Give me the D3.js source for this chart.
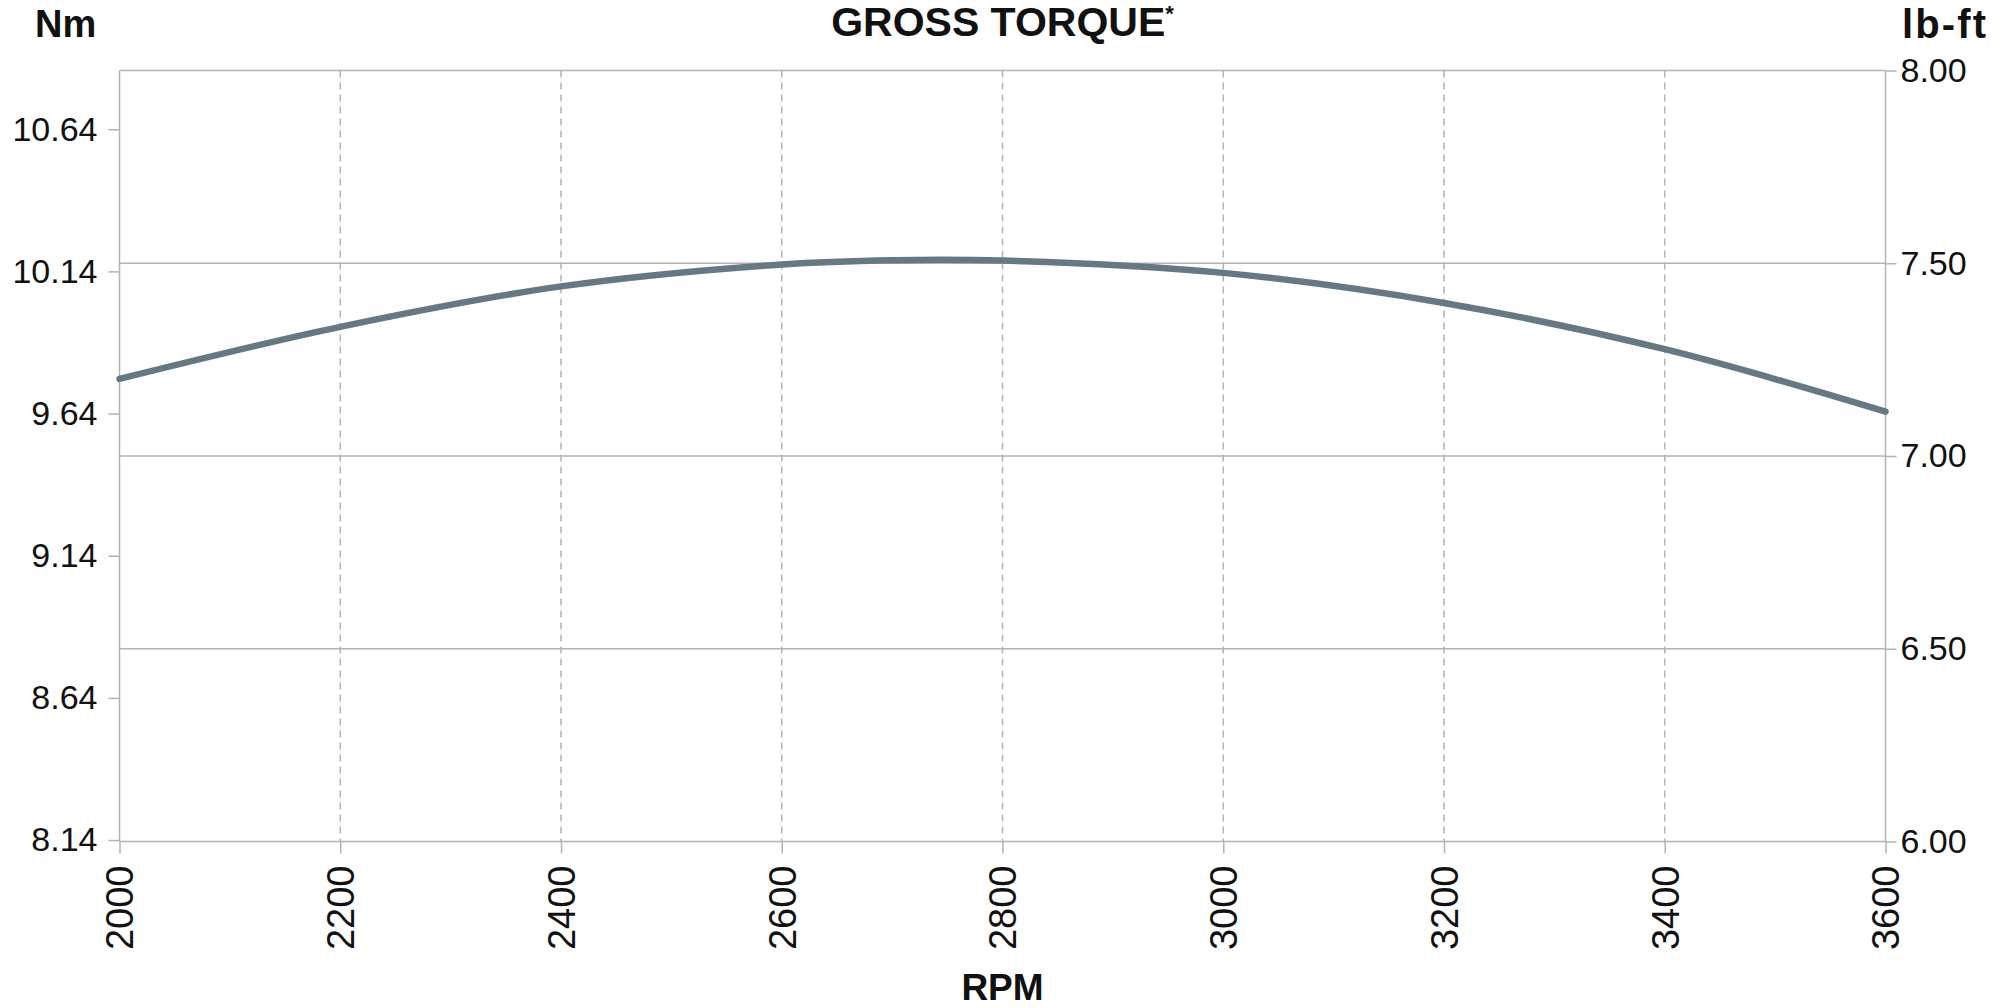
<!DOCTYPE html>
<html>
<head>
<meta charset="utf-8">
<script src="https://cdn.jsdelivr.net/npm/d3@7"></script>
<style>
    body { margin: 0; background: #fff; }
    text { font-family: "Liberation Sans", Arial, sans-serif; fill: #111; }
    .grid line { stroke: #b3b3b3; }
</style>
</head>
<body>
<div id="chart"></div>
<script>
// data
var rpm = [2000, 2200, 2400, 2600, 2700, 2800, 3000, 3200, 3400, 3600];
var torqueLbFt = [7.20, 7.335, 7.44, 7.497, 7.508, 7.507, 7.475, 7.397, 7.277, 7.115];

var rpmTicks = [2000, 2200, 2400, 2600, 2800, 3000, 3200, 3400, 3600];
var lbFtTicks = [6.00, 6.50, 7.00, 7.50, 8.00];
var nmTicks = [8.14, 8.64, 9.14, 9.64, 10.14, 10.64];
var NM_PER_LBFT = 1.35582;

var width = 2009;
var height = 1008;
var margin = { top: 70.5, right: 123.5, bottom: 166.5, left: 119.5 };
var boundedWidth = width - margin.left - margin.right;
var boundedHeight = height - margin.top - margin.bottom;

var svg = d3.select("#chart").append("svg")
    .attr("width", width)
    .attr("height", height);

var bounds = svg.append("g")
    .attr("transform", `translate(${margin.left}, ${margin.top})`);

var xScale = d3.scaleLinear()
    .domain([2000, 3600])
    .range([0, boundedWidth]);

var yScale = d3.scaleLinear()
    .domain([6, 8])
    .range([boundedHeight, 0]);

var nmScale = d3.scaleLinear()
    .domain([6 * NM_PER_LBFT, 8 * NM_PER_LBFT])
    .range([boundedHeight, 0]);

// vertical dashed grid
bounds.append("g").attr("class", "grid")
    .selectAll("line")
    .data(rpmTicks.slice(1, -1)).enter()
    .append("line")
    .attr("x1", d => xScale(d)).attr("x2", d => xScale(d))
    .attr("y1", 0).attr("y2", boundedHeight)
    .attr("stroke-width", 1.5)
    .attr("stroke-dasharray", "7,5");

// horizontal solid grid (incl. top and bottom border)
bounds.append("g").attr("class", "grid")
    .selectAll("line")
    .data(lbFtTicks).enter()
    .append("line")
    .attr("x1", 0).attr("x2", boundedWidth)
    .attr("y1", d => yScale(d)).attr("y2", d => yScale(d))
    .attr("stroke-width", 1.5);

// side borders
bounds.append("g").attr("class", "grid")
    .selectAll("line")
    .data([0, boundedWidth]).enter()
    .append("line")
    .attr("x1", d => d).attr("x2", d => d)
    .attr("y1", 0).attr("y2", boundedHeight)
    .attr("stroke-width", 1.5);

// axes
var leftAxis = d3.axisLeft(nmScale)
    .tickValues(nmTicks)
    .tickFormat(d3.format(".2f"))
    .tickSize(11)
    .tickPadding(11);

var rightAxis = d3.axisRight(yScale)
    .tickValues(lbFtTicks)
    .tickFormat(d3.format(".2f"))
    .tickSize(11)
    .tickPadding(4);

var bottomAxis = d3.axisBottom(xScale)
    .tickValues(rpmTicks)
    .tickFormat(d3.format("d"))
    .tickSize(12);

function styleAxis(g) {
    g.select(".domain").remove();
    g.selectAll(".tick line").attr("stroke", "#b3b3b3").attr("stroke-width", 1.5);
    g.selectAll(".tick text")
        .attr("font-family", "Liberation Sans, Arial, sans-serif")
        .attr("fill", "#111");
}

bounds.append("g")
    .call(leftAxis)
    .call(styleAxis)
    .selectAll(".tick text")
    .attr("font-size", 34);

bounds.append("g")
    .attr("transform", `translate(${boundedWidth}, 0)`)
    .call(rightAxis)
    .call(styleAxis)
    .selectAll(".tick text")
    .attr("font-size", 34);

bounds.append("g")
    .attr("transform", `translate(0, ${boundedHeight})`)
    .call(bottomAxis)
    .call(styleAxis)
    .selectAll(".tick text")
    .attr("font-size", 38)
    .attr("text-anchor", "end")
    .attr("transform", "rotate(-90)")
    .attr("x", -24)
    .attr("y", 0)
    .attr("dy", "0.35em");

// torque curve
var line = d3.line()
    .x((d, i) => xScale(rpm[i]))
    .y(d => yScale(d))
    .curve(d3.curveCatmullRom);

bounds.append("path")
    .datum(torqueLbFt)
    .attr("fill", "none")
    .attr("stroke", "#657985")
    .attr("stroke-width", 6.5)
    .attr("stroke-linecap", "round")
    .attr("d", line);

// titles
svg.append("text")
    .attr("x", 35).attr("y", 37)
    .attr("font-size", 38).attr("font-weight", "bold")
    .text("Nm");

svg.append("text")
    .attr("x", 1986).attr("y", 38)
    .attr("text-anchor", "end")
    .attr("font-size", 40).attr("font-weight", "bold")
    .attr("textLength", 84)
    .text("lb-ft");

var title = svg.append("text")
    .attr("x", margin.left + boundedWidth / 2).attr("y", 36)
    .attr("text-anchor", "middle")
    .attr("font-size", 41).attr("font-weight", "bold");
title.append("tspan").text("GROSS TORQUE");
title.append("tspan").attr("font-size", 22).attr("dy", -15).text("*");

svg.append("text")
    .attr("x", margin.left + boundedWidth / 2).attr("y", 1000)
    .attr("text-anchor", "middle")
    .attr("font-size", 37).attr("font-weight", "bold")
    .text("RPM");
</script>
</body>
</html>
